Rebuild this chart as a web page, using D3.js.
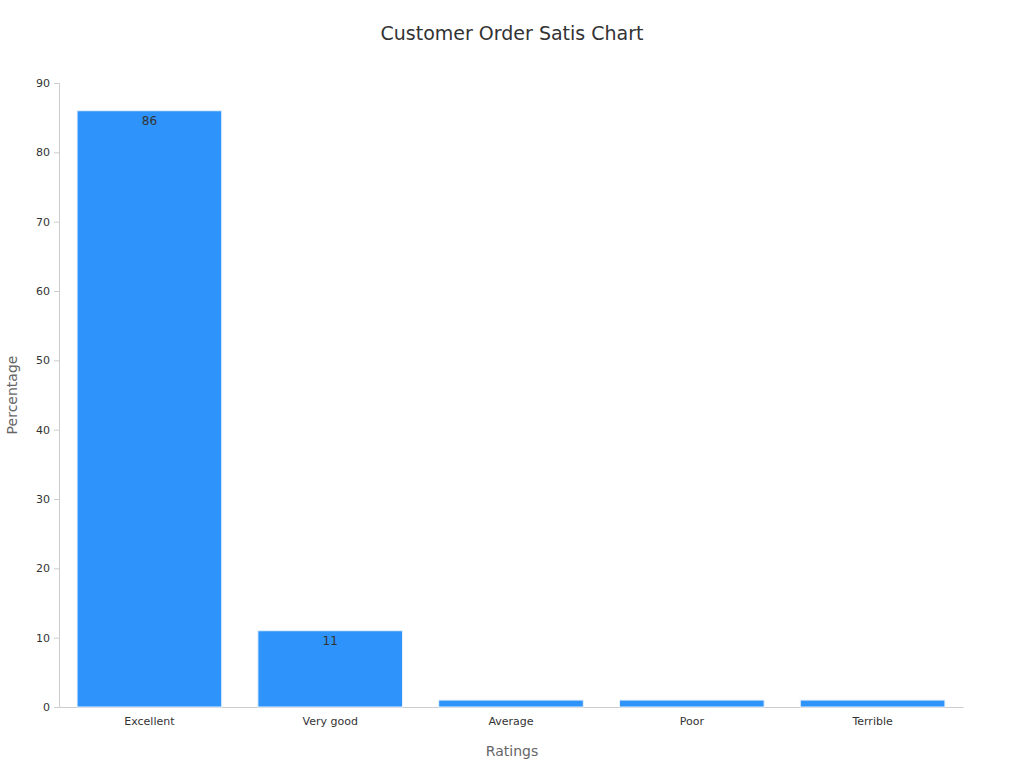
<!DOCTYPE html>
<html>
<head>
<meta charset="UTF-8">
<script src="https://d3js.org/d3.v7.min.js"></script>
<style>
  body { margin: 0; background: #fff; font-family: "DejaVu Sans", sans-serif; }
  .axis path, .axis line { stroke: #ccc; }
  .axis text { fill: #333; font-size: 11px; font-family: "DejaVu Sans", sans-serif; }
</style>
</head>
<body>
<svg width="1024" height="768"></svg>
<script>
const categories = ["Excellent", "Very good", "Average", "Poor", "Terrible"];
const values = [86, 11, 1, 1, 1];
const yTicks = [0, 10, 20, 30, 40, 50, 60, 70, 80, 90];

const svg = d3.select("svg");
const m = { left: 59, right: 61, top: 83, bottom: 61 };
const W = 1024, H = 768;

const x = d3.scaleBand().domain(categories).range([m.left, W - m.right]).paddingInner(0.2).paddingOuter(0.1);
const y = d3.scaleLinear().domain([0, 90]).range([H - m.bottom, m.top]);

svg.append("text").attr("x", 512).attr("y", 40).attr("text-anchor", "middle")
  .style("font-size", "19px").style("fill", "#333").text("Customer Order Satis Chart");

svg.append("g").attr("class", "axis").attr("transform", `translate(0,${H - m.bottom})`)
  .call(d3.axisBottom(x).tickSize(0).tickPadding(10));
svg.append("g").attr("class", "axis").attr("transform", `translate(${m.left},0)`)
  .call(d3.axisLeft(y).tickValues(yTicks).tickSize(5).tickPadding(4));

// bars
svg.selectAll(".bar").data(values).enter().append("rect")
  .attr("x", (d, i) => x(categories[i]))
  .attr("width", x.bandwidth())
  .attr("y", d => y(d))
  .attr("height", d => y(0) - y(d))
  .attr("fill", "#2e93fa")
  .attr("stroke", "#e8f1fc").attr("stroke-width", 1);

// value labels
svg.selectAll(".lbl").data(values.filter(v => v > 5)).enter().append("text")
  .attr("x", (d, i) => x(categories[i]) + x.bandwidth() / 2)
  .attr("y", d => y(d) + 14)
  .attr("text-anchor", "middle")
  .style("font-size", "12px").style("fill", "#333")
  .text(d => d);

svg.append("text").attr("x", 512).attr("y", 756).attr("text-anchor", "middle")
  .style("font-size", "14px").style("fill", "#666").text("Ratings");
svg.append("text").attr("transform", `translate(17,395) rotate(-90)`).attr("text-anchor", "middle")
  .style("font-size", "14px").style("fill", "#666").text("Percentage");
</script>
</body>
</html>
